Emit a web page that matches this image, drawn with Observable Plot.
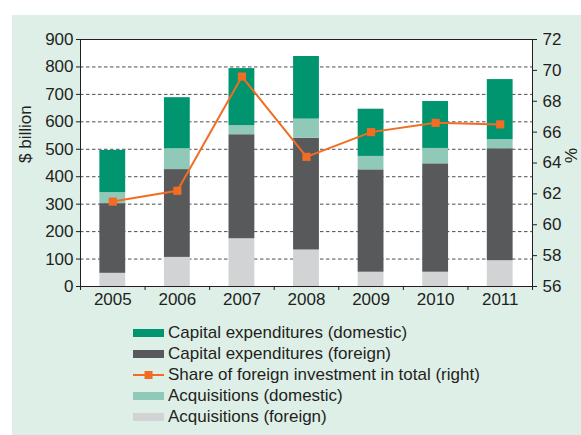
<!DOCTYPE html>
<html>
<head>
<meta charset="utf-8">
<script src="https://cdn.jsdelivr.net/npm/d3@7"></script>
<script src="https://cdn.jsdelivr.net/npm/@observablehq/plot@0.6"></script>
<style>
  html, body { margin: 0; padding: 0; background: #ffffff; }
  body { width: 581px; height: 435px; position: relative; overflow: hidden;
         font-family: "Liberation Sans", Arial, sans-serif; color: #231f20; }
  #panel { position: absolute; left: 12px; top: 15px; width: 569px; height: 420px; background: #deefe8; }
  #chart { position: absolute; left: 0; top: 0; }
  #legend { position: absolute; left: 121px; top: 307px; font-size: 17px; }
  .row { display: flex; align-items: center; height: 21px; white-space: nowrap; }
  .sw { width: 31px; height: 8px; margin-right: 4px; flex: none; }
  .row svg { margin-right: 4px; flex: none; }
</style>
</head>
<body>
<div id="panel">
  <div id="chart"></div>
  <div id="legend"></div>
</div>
<script>
// ---- data ----
const years = [2005, 2006, 2007, 2008, 2009, 2010, 2011];
const acqForeign  = [48, 106, 174, 133, 52, 52, 94];     // $ billion
const capForeign  = [254, 320, 379, 407, 373, 395, 408];
const acqDomestic = [40, 76, 33, 70, 49, 56, 33];
const capDomestic = [154, 186, 208, 228, 172, 171, 219];
const foreignShare = [61.5, 62.2, 69.6, 64.4, 66.0, 66.6, 66.5]; // % (right axis)
const leftTicks = [0, 100, 200, 300, 400, 500, 600, 700, 800, 900];
const rightTicks = [56, 58, 60, 62, 64, 66, 68, 70, 72];
const gridValues = [100, 200, 300, 400, 500, 600, 700, 800];

const seriesNames = [
  "Acquisitions (foreign)",
  "Capital expenditures (foreign)",
  "Acquisitions (domestic)",
  "Capital expenditures (domestic)"
];
const seriesValues = [acqForeign, capForeign, acqDomestic, capDomestic];
const seriesColors = ["#d1d3d4", "#58595b", "#91c9b8", "#00946f"];
const lineName = "Share of foreign investment in total (right)";
const lineColor = "#f26c23";

// ---- derived tables ----
const stacked = [];
years.forEach((yr, i) => {
  let base = 0;
  seriesNames.forEach((s, k) => {
    const v = seriesValues[k][i];
    stacked.push({year: yr, series: s, y1: base, y2: base + v});
    base += v;
  });
});
const rMin = 56, rMax = 72, lMax = 900;
const toLeft = p => (p - rMin) / (rMax - rMin) * lMax;
const fromLeft = v => v / lMax * (rMax - rMin) + rMin;
const shareData = years.map((yr, i) => ({year: yr, share: foreignShare[i]}));
const boundaries = years.map(y => y - 0.5).concat([years[years.length - 1] + 0.5]);

const ink = "#231f20";
const chart = Plot.plot({
  width: 569,
  height: 305,
  marginLeft: 68,
  marginRight: 49,
  marginTop: 24,
  marginBottom: 34,
  style: {fontFamily: '"Liberation Sans", Arial, sans-serif', fontSize: "17px", color: ink, background: "transparent", overflow: "visible"},
  x: {type: "linear", domain: [years[0] - 0.5, years[years.length - 1] + 0.5]},
  y: {domain: [0, lMax]},
  color: {domain: seriesNames, range: seriesColors},
  marks: [
    Plot.frame({fill: "white", stroke: null}),
    Plot.ruleY(gridValues, {stroke: "#4d4d4f", strokeDasharray: "3.5,2.5", strokeWidth: 1}),
    Plot.rect(stacked, {
      x1: d => d.year - 0.2, x2: d => d.year + 0.2,
      y1: "y1", y2: "y2", fill: "series"
    }),
    Plot.frame({stroke: ink, strokeWidth: 1}),
    Plot.axisY({ticks: leftTicks, tickSize: 4, tickPadding: 3, label: null, stroke: ink, fill: ink}),
    Plot.axisY({anchor: "right", ticks: rightTicks.map(toLeft), tickFormat: v => Math.round(fromLeft(v)),
                tickSize: 4, tickPadding: 6, label: null, stroke: ink, fill: ink}),
    Plot.axisX({ticks: years, tickSize: 0, tickPadding: 6, tickFormat: d => String(d), label: null, fill: ink}),
    Plot.axisX({ticks: boundaries, tickSize: 4, tickFormat: () => "", label: null, stroke: ink}),
    Plot.line(shareData, {x: "year", y: d => toLeft(d.share), stroke: lineColor, strokeWidth: 2}),
    Plot.dot(shareData, {x: "year", y: d => toLeft(d.share), symbol: "square", r: 4.6, fill: lineColor, stroke: null}),
    Plot.text(["$ billion"], {frameAnchor: "left", rotate: -90, dx: -55, fill: ink, fontSize: 17}),
    Plot.text(["%"], {frameAnchor: "right", rotate: 90, dx: 38, fill: ink, fontSize: 17})
  ]
});
document.getElementById("chart").appendChild(chart);

// ---- legend ----
const legendItems = [
  {name: seriesNames[3], color: seriesColors[3]},
  {name: seriesNames[1], color: seriesColors[1]},
  {name: lineName, line: true},
  {name: seriesNames[2], color: seriesColors[2]},
  {name: seriesNames[0], color: seriesColors[0]}
];
const legend = document.getElementById("legend");
legendItems.forEach(it => {
  const row = document.createElement("div");
  row.className = "row";
  if (it.line) {
    row.innerHTML = `<svg width="31" height="10"><line x1="0" y1="5" x2="31" y2="5" stroke="${lineColor}" stroke-width="2"/><rect x="11.5" y="1" width="8" height="8" fill="${lineColor}"/></svg>`;
  } else {
    const sw = document.createElement("div");
    sw.className = "sw";
    sw.style.background = it.color;
    row.appendChild(sw);
  }
  const t = document.createElement("span");
  t.textContent = it.name;
  row.appendChild(t);
  legend.appendChild(row);
});
</script>
</body>
</html>
